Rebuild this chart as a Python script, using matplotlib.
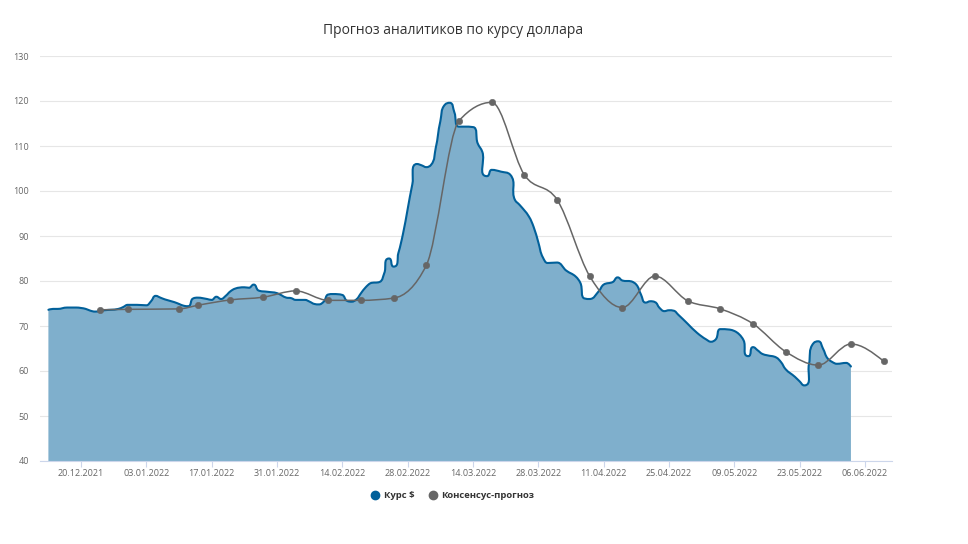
import numpy as np
import matplotlib
matplotlib.use("Agg")
import matplotlib.pyplot as plt
import matplotlib.dates as mdates
from matplotlib.path import Path
from matplotlib.patches import PathPatch
from matplotlib.lines import Line2D
import pandas as pd

plt.rcParams['font.family'] = ['Open Sans', 'DejaVu Sans']

title = "Прогноз аналитиков по курсу доллара"
series_rate_name = "Курс $"
series_fc_name = "Консенсус-прогноз"

rate_dates = [
    "2021-12-13", "2021-12-14", "2021-12-15", "2021-12-17", "2021-12-19", "2021-12-20",
    "2021-12-21", "2021-12-22", "2021-12-23", "2021-12-25", "2021-12-28", "2021-12-29",
    "2021-12-30", "2022-01-01", "2022-01-03", "2022-01-04", "2022-01-05", "2022-01-06",
    "2022-01-07", "2022-01-09", "2022-01-10", "2022-01-11", "2022-01-12", "2022-01-13",
    "2022-01-14", "2022-01-16", "2022-01-17", "2022-01-18", "2022-01-19", "2022-01-20",
    "2022-01-21", "2022-01-22", "2022-01-24", "2022-01-25", "2022-01-26", "2022-01-27",
    "2022-01-29", "2022-01-31", "2022-02-01", "2022-02-02", "2022-02-03", "2022-02-04",
    "2022-02-06", "2022-02-07", "2022-02-08", "2022-02-09", "2022-02-10", "2022-02-11",
    "2022-02-12", "2022-02-14", "2022-02-15", "2022-02-16", "2022-02-17", "2022-02-18",
    "2022-02-19", "2022-02-20", "2022-02-22", "2022-02-23", "2022-02-24", "2022-02-25",
    "2022-02-26", "2022-02-27", "2022-02-28", "2022-03-01", "2022-03-02", "2022-03-03",
    "2022-03-04", "2022-03-05", "2022-03-06", "2022-03-07", "2022-03-08", "2022-03-09",
    "2022-03-10", "2022-03-11", "2022-03-12", "2022-03-14", "2022-03-15", "2022-03-16",
    "2022-03-17", "2022-03-18", "2022-03-20", "2022-03-22", "2022-03-23", "2022-03-24",
    "2022-03-26", "2022-03-27", "2022-03-28", "2022-03-29", "2022-03-30", "2022-04-01",
    "2022-04-03", "2022-04-05", "2022-04-06", "2022-04-07", "2022-04-08", "2022-04-10",
    "2022-04-11", "2022-04-13", "2022-04-14", "2022-04-15", "2022-04-17", "2022-04-18",
    "2022-04-19", "2022-04-20", "2022-04-21", "2022-04-22", "2022-04-23", "2022-04-24",
    "2022-04-25", "2022-04-26", "2022-04-27", "2022-04-29", "2022-05-01", "2022-05-03",
    "2022-05-04", "2022-05-05", "2022-05-06", "2022-05-08", "2022-05-09", "2022-05-10",
    "2022-05-11", "2022-05-12", "2022-05-13", "2022-05-14", "2022-05-15", "2022-05-16",
    "2022-05-18", "2022-05-19", "2022-05-20", "2022-05-22", "2022-05-23", "2022-05-24",
    "2022-05-25", "2022-05-26", "2022-05-27", "2022-05-28", "2022-05-29", "2022-05-30",
    "2022-05-31", "2022-06-02", "2022-06-03",
]
rate_values = [
    73.6, 73.8, 73.8, 74.1, 74.1, 74.0,
    73.8, 73.4, 73.2, 73.5, 73.8, 74.2,
    74.7, 74.7, 74.6, 75.5, 76.7, 76.3,
    75.9, 75.3, 74.9, 74.5, 74.4, 76.1,
    76.3, 76.0, 75.8, 76.5, 76.0, 76.7,
    77.7, 78.3, 78.6, 78.5, 79.2, 77.9,
    77.6, 77.3, 76.8, 76.3, 76.2, 75.8,
    75.8, 75.4, 74.9, 74.8, 75.4, 77.0,
    77.1, 76.9, 75.6, 75.4, 75.9, 77.3,
    78.6, 79.5, 79.8, 81.8, 85.0, 83.2,
    86.2, 90.5, 96.0, 101.5, 106.0, 105.7,
    105.3, 105.8, 109.5, 115.5, 119.2, 119.6,
    117.5, 114.3, 114.3, 114.2, 110.6, 108.7,
    103.3, 104.7, 104.3, 103.6, 98.0, 96.9,
    94.3, 92.0, 88.6, 85.2, 84.0, 84.1,
    82.3, 81.0, 79.6, 76.1, 76.0, 77.8,
    79.2, 79.8, 80.8, 80.1, 79.9, 79.2,
    77.0, 75.2, 75.5, 75.3, 74.0, 73.3,
    73.5, 73.4, 72.5, 70.5, 68.5, 67.0,
    66.5, 67.0, 69.3, 69.2, 68.9, 68.2,
    66.8, 63.3, 65.3, 64.6, 63.8, 63.5,
    63.0, 62.0, 60.4, 58.7, 57.7, 56.8,
    61.5, 66.2, 66.6, 65.0, 62.8, 62.0,
    61.6, 61.8, 61.0,
]

fc_dates = [
    "2021-12-24", "2021-12-30", "2022-01-10", "2022-01-14", "2022-01-21", "2022-01-28",
    "2022-02-04", "2022-02-11", "2022-02-18", "2022-02-25", "2022-03-04", "2022-03-11",
    "2022-03-18", "2022-03-25", "2022-04-01", "2022-04-08", "2022-04-15", "2022-04-22",
    "2022-04-29", "2022-05-06", "2022-05-13", "2022-05-20", "2022-05-27", "2022-06-03",
    "2022-06-10",
]
fc_values = [
    73.6, 73.7, 73.8, 74.6, 75.8, 76.4,
    77.8, 75.7, 75.7, 76.2, 83.5, 115.6,
    119.7, 103.6, 98.1, 81.1, 74.1, 81.1,
    75.6, 73.8, 70.5, 64.3, 61.3, 66.0,
    62.2,
]

tick_dates = ["2021-12-20", "2022-01-03", "2022-01-17", "2022-01-31", "2022-02-14",
              "2022-02-28", "2022-03-14", "2022-03-28", "2022-04-11", "2022-04-25",
              "2022-05-09", "2022-05-23", "2022-06-06"]
y_ticks = [40, 50, 60, 70, 80, 90, 100, 110, 120, 130]

BLUE = "#01609a"
FILL = "#7fafcc"
GRAY = "#666666"

# pixel scale (display units) used for Highcharts-like spline smoothing
SX = 4.667   # px per day
SY = 4.5     # px per unit


def hc_spline(x, y, smoothing=1.5):
    X = np.asarray(x, float) * SX
    Y = np.asarray(y, float) * SY
    n = len(X)
    lcx, lcy = X.copy(), Y.copy()
    rcx, rcy = X.copy(), Y.copy()
    d = smoothing + 1
    for i in range(1, n - 1):
        px, py = X[i], Y[i]
        lx, ly = X[i - 1], Y[i - 1]
        nx, ny = X[i + 1], Y[i + 1]
        a = (smoothing * px + lx) / d
        b = (smoothing * py + ly) / d
        c = (smoothing * px + nx) / d
        e = (smoothing * py + ny) / d
        dL = np.hypot(a - px, b - py)
        dR = np.hypot(c - px, e - py)
        la = np.arctan2(b - py, a - px)
        ra = np.arctan2(e - py, c - px)
        ja = np.pi / 2 + (la + ra) / 2
        if abs(la - ja) > np.pi / 2:
            ja -= np.pi
        L_x = px + np.cos(ja) * dL
        L_y = py + np.sin(ja) * dL
        R_x = px + np.cos(np.pi + ja) * dR
        R_y = py + np.sin(np.pi + ja) * dR
        if R_y > py and R_y > ny:
            R_y = max(py, ny); L_y = 2 * py - R_y
        elif R_y < py and R_y < ny:
            R_y = min(py, ny); L_y = 2 * py - R_y
        if L_y > ly and L_y > py:
            L_y = max(ly, py); R_y = 2 * py - L_y
        elif L_y < ly and L_y < py:
            L_y = min(ly, py); R_y = 2 * py - L_y
        lcx[i], lcy[i], rcx[i], rcy[i] = L_x, L_y, R_x, R_y
    verts = [(X[0], Y[0])]
    codes = [Path.MOVETO]
    for i in range(1, n):
        verts += [(rcx[i - 1], rcy[i - 1]), (lcx[i], lcy[i]), (X[i], Y[i])]
        codes += [Path.CURVE4] * 3
    verts = np.array(verts)
    verts[:, 0] /= SX
    verts[:, 1] /= SY
    return verts, codes


def monotone_spline(x, y):
    x = np.asarray(x, float)
    y = np.asarray(y, float)
    n = len(x)
    h = np.diff(x)
    s = np.diff(y) / h
    m = np.zeros(n)
    for i in range(1, n - 1):
        p = (s[i - 1] * h[i] + s[i] * h[i - 1]) / (h[i - 1] + h[i])
        m[i] = (np.sign(s[i - 1]) + np.sign(s[i])) * min(abs(s[i - 1]), abs(s[i]), 0.5 * abs(p))
    m[0] = (3 * s[0] - m[1]) / 2
    m[-1] = (3 * s[-1] - m[-2]) / 2
    verts = [(x[0], y[0])]
    codes = [Path.MOVETO]
    for i in range(n - 1):
        dx = h[i] / 3
        verts += [(x[i] + dx, y[i] + m[i] * dx), (x[i + 1] - dx, y[i + 1] - m[i + 1] * dx),
                  (x[i + 1], y[i + 1])]
        codes += [Path.CURVE4] * 3
    return np.array(verts), codes


rx = mdates.date2num(pd.to_datetime(rate_dates))
fx = mdates.date2num(pd.to_datetime(fc_dates))

fig = plt.figure(figsize=(9.68, 5.44), dpi=100)
ax = fig.add_axes([40 / 968, 1 - 461 / 544, 852 / 968, 405 / 544])

y0 = 40
# blue area
v, c = hc_spline(rx, rate_values)
area_v = np.vstack([v, [[rx[-1], y0], [rx[0], y0], [rx[0], y0]]])
area_c = c + [Path.LINETO, Path.LINETO, Path.CLOSEPOLY]
ax.add_patch(PathPatch(Path(area_v, area_c), facecolor=FILL, edgecolor="none", zorder=2))
ax.add_patch(PathPatch(Path(v, c), facecolor="none", edgecolor=BLUE, lw=1.5, zorder=3,
                       capstyle="round", joinstyle="round"))

# forecast
v2, c2 = monotone_spline(fx, fc_values)
ax.add_patch(PathPatch(Path(v2, c2), facecolor="none", edgecolor=GRAY, lw=1.1, zorder=4))
ax.plot(fx, fc_values, linestyle="none", marker="o", ms=4.6, mew=0.4, color=GRAY, zorder=5)

x_left = mdates.date2num(pd.Timestamp("2021-12-20")) - 8.8
x_right = mdates.date2num(pd.Timestamp("2021-12-20")) + 173.8
ax.set_xlim(x_left, x_right)
ax.set_ylim(40, 130)

ax.set_yticks(y_ticks)
ax.set_yticklabels([str(t) for t in y_ticks])
tx = mdates.date2num(pd.to_datetime(tick_dates))
ax.set_xticks(tx)
ax.set_xticklabels([pd.Timestamp(t).strftime("%d.%m.%Y") for t in tick_dates])

ax.grid(axis="y", color="#e6e6e6", lw=0.8, zorder=0)
ax.set_axisbelow(True)
for s in ["top", "right", "left"]:
    ax.spines[s].set_visible(False)
ax.spines["bottom"].set_color("#ccd6eb")
ax.spines["bottom"].set_linewidth(0.8)
ax.spines["bottom"].set_zorder(6)
ax.tick_params(axis="y", length=0, pad=8, labelsize=6.5, labelcolor="#666666")
ax.tick_params(axis="x", length=4, width=0.8, color="#ccd6eb", pad=2, labelsize=6.5,
               labelcolor="#666666")

fig.text(453 / 968, 1 - 30 / 544, title, ha="center", va="center", fontsize=10,
         color="#333333")

handles = [Line2D([], [], linestyle="none", marker="o", ms=6, color=BLUE),
           Line2D([], [], linestyle="none", marker="o", ms=6, color=GRAY)]
leg = fig.legend(handles, [series_rate_name, series_fc_name], loc="center",
                 bbox_to_anchor=(453 / 968, 1 - 496 / 544), ncol=2, frameon=False,
                 prop={"size": 6.8, "weight": "bold"}, handlelength=0.8,
                 handletextpad=0.5, columnspacing=1.6)
for t in leg.get_texts():
    t.set_color("#333333")

fig.savefig("out.png", dpi=100)
